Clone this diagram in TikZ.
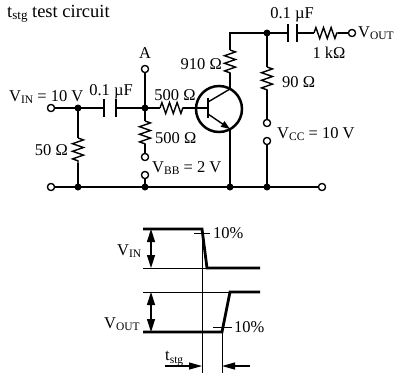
\documentclass[tikz,border=0pt]{standalone}
\usepackage{fontspec}
\setmainfont{Liberation Serif}
\usetikzlibrary{arrows.meta,decorations.pathmorphing}
\newcommand\lsub[1]{\raisebox{-0.3ex}{\fontsize{11.5}{11.5}\selectfont #1}}
\begin{document}
\begin{tikzpicture}[x=1pt,y=-1pt,
 wire/.style={line width=1.4pt},
 res/.style={line width=1.4pt, decorate, decoration={zigzag, segment length=7.6, amplitude=5.5}},
 plate/.style={line width=2.6pt},
 jdot/.style={circle, fill=black, inner sep=0pt, minimum size=7pt},
 term/.style={circle, draw, line width=1.2pt, fill=white, inner sep=0pt, minimum size=7pt},
 lbl/.style={font=\fontsize{16.5}{18}\selectfont, inner sep=0pt},
 wthick/.style={line width=2.8pt},
 wthin/.style={line width=0.9pt},
 dblarrow/.style={line width=1.5pt, {Triangle[length=13pt,width=8pt]}-{Triangle[length=13pt,width=8pt]}},
 tarrow/.style={line width=1.3pt, -{Triangle[length=13pt,width=7pt]}},
]
\useasboundingbox (0,0) rectangle (395,381);

% title
\node[anchor=base west, inner sep=0pt, font=\fontsize{18.5}{22}\selectfont] (title) at (7,17)
  {t\raisebox{-0.35ex}{\fontsize{13}{13}\selectfont stg} test circuit};

% ---------- coordinates ----------
\coordinate (jin) at (78,108);
\coordinate (c1a) at (104,108);
\coordinate (c1b) at (116,108);
\coordinate (ja) at (145,108);
\coordinate (rb1) at (160,108);
\coordinate (rb2) at (183,108);
\coordinate (qb) at (208,108);
\coordinate (qc) at (230,89);
\coordinate (qe) at (230,129);
\coordinate (rc1) at (230,50);
\coordinate (rc2) at (230,73);
\coordinate (ctop) at (230,33);
\coordinate (jout) at (267,33);
\coordinate (c2a) at (288,33);
\coordinate (c2b) at (297,33);
\coordinate (ro1) at (314,33);
\coordinate (ro2) at (338,33);
\coordinate (r90a) at (267,67);
\coordinate (r90b) at (267,90);
\coordinate (r50a) at (78,138);
\coordinate (r50b) at (78,163);
\coordinate (rbba) at (145,121);
\coordinate (rbbb) at (145,144);

\node[term] (tin) at (51,108) {};
\node[term] (tA) at (145,69) {};
\node[term] (tbb1) at (145,157) {};
\node[term] (tbb2) at (145,175) {};
\node[term] (tout) at (352,33) {};
\node[term] (tcc1) at (267,123) {};
\node[term] (tcc2) at (267,141) {};
\node[term] (tgl) at (51,187) {};
\node[term] (tgr) at (322,187) {};

\coordinate (g1) at (78,187);
\coordinate (g2) at (145,187);
\coordinate (g3) at (230,187);
\coordinate (g4) at (267,187);

% ---------- wires ----------
\draw[wire] (tin) -- (jin) -- (c1a);
\draw[plate] (104,99) -- (104,117);
\draw[plate] (116,99) -- (116,117);
\draw[wire] (c1b) -- (ja) -- (rb1);
\draw[res] (rb1) -- (rb2);
\draw[wire] (rb2) -- (qb);
\draw[wire] (tA) -- (ja);
\draw[wire] (ja) -- (rbba);
\draw[res] (rbba) -- (rbbb);
\draw[wire] (rbbb) -- (tbb1);
\draw[wire] (tbb2) -- (g2);
\draw[wire] (jin) -- (r50a);
\draw[res] (r50a) -- (r50b);
\draw[wire] (r50b) -- (g1);
\draw[wire] (tgl) -- (g1) -- (g2) -- (g3) -- (g4) -- (tgr);

% transistor
\draw[line width=2.5pt] (219,109) circle (23);
\draw[line width=2.6pt] (208,98) -- (208,118);
\draw[wire] (208,102) -- (qc);
\draw[wire, -{Triangle[length=9pt,width=6.5pt]}] (208,114) -- (qe);
\draw[wire] (qe) -- (g3);
\draw[wire] (qc) -- (rc2);
\draw[res] (rc1) -- (rc2);
\draw[wire] (rc1) -- (ctop) -- (jout) -- (c2a);
\draw[plate] (288,24) -- (288,42);
\draw[plate] (297,24) -- (297,42);
\draw[wire] (c2b) -- (ro1);
\draw[res] (ro1) -- (ro2);
\draw[wire] (ro2) -- (tout);
\draw[wire] (jout) -- (r90a);
\draw[res] (r90a) -- (r90b);
\draw[wire] (r90b) -- (tcc1);
\draw[wire] (tcc2) -- (g4);

% redraw terminals on top
\foreach \t in {tin,tA,tbb1,tbb2,tout,tcc1,tcc2,tgl,tgr}{\node[term] at (\t) {};}

% junction dots
\foreach \j in {jin,ja,jout,g1,g2,g3,g4}{\node[jdot] at (\j) {};}

% ---------- labels ----------
\node[lbl, anchor=base] (lA) at (145,58) {A};
\node[lbl, anchor=base west] (lvin) at (9,101) {V\lsub{IN} = 10 V};
\node[lbl, anchor=base] (lc1) at (111,95) {0.1 µF};
\node[lbl, anchor=base] (lrb) at (175,100) {500 Ω};
\node[lbl, anchor=base west] (lrbb) at (155,143) {500 Ω};
\node[lbl, anchor=base west] (lvbb) at (152,172) {V\lsub{BB} = 2 V};
\node[lbl, anchor=base east] (lr50) at (68,155) {50 Ω};
\node[lbl, anchor=base east] (lrc) at (222,69) {910 Ω};
\node[lbl, anchor=base] (lc2) at (292,18) {0.1 µF};
\node[lbl, anchor=base] (lro) at (329,58) {1 kΩ};
\node[lbl, anchor=base west] (lvout) at (358,37) {V\lsub{OUT}};
\node[lbl, anchor=base west] (lr90) at (282,87) {90 Ω};
\node[lbl, anchor=base west] (lvcc) at (277,138) {V\lsub{CC} = 10 V};

% ---------- waveforms ----------
\draw[wthin] (143,268) -- (207,268);
\draw[wthick, line join=miter] (143,229) -- (202,229) -- (207,268) -- (260,268);
\draw[wthin] (194,233) -- (210,233);
\draw[wthin] (202,233) -- (202,373);
\draw[dblarrow] (151,229) -- (151,268);
\node[lbl, anchor=base west] (wvin) at (117,255) {V\lsub{IN}};
\node[lbl, anchor=base west] (w10a) at (213,238) {10\%};

\draw[wthin] (143,292) -- (230,292);
\draw[wthick, line join=miter] (143,332) -- (222,332) -- (230,292) -- (260,292);
\draw[wthin] (213,327) -- (232,327);
\draw[wthin] (222,327) -- (222,373);
\draw[dblarrow] (151,292) -- (151,332);
\node[lbl, anchor=base west] (wvout) at (104,328) {V\lsub{OUT}};
\node[lbl, anchor=base west] (w10b) at (234,332) {10\%};

\draw[tarrow] (165,366) -- (202,366);
\draw[tarrow] (250,366) -- (222,366);
\node[lbl, anchor=base west] (wts) at (165,360) {t\raisebox{-0.4ex}{\fontsize{11.5}{11.5}\selectfont stg}};
\end{tikzpicture}
\end{document}
